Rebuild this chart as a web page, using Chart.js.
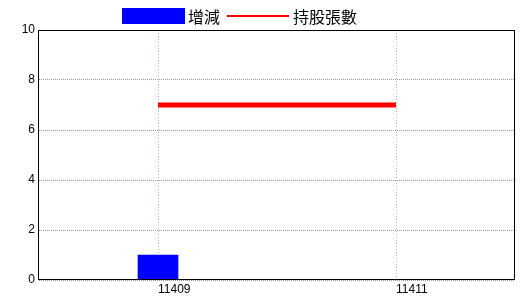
<!DOCTYPE html>
<html>
<head>
<meta charset="utf-8">
<script src="https://cdn.jsdelivr.net/npm/chart.js@4/dist/chart.umd.min.js"></script>
<style>
  html, body { margin: 0; padding: 0; background: #fff; }
  #wrap { width: 520px; height: 300px; }
</style>
</head>
<body>
<div id="wrap"><canvas id="chart"></canvas></div>
<script>
const categories = ['11409', '11411'];
const changeValues = [1, 0];        // 增減
const holdingValues = [7, 7];       // 持股張數
const yTicks = [0, 2, 4, 6, 8, 10];

const cjkFont = '"Noto Sans CJK TC", "Noto Sans CJK SC", sans-serif';

// legend drawn by hand so box / line sizes match the original
const legendPlugin = {
    id: 'customLegend',
    afterDraw: function (chart) {
        const ctx = chart.ctx;
        let x = 122;
        const midY = 16;
        ctx.save();
        ctx.font = '16px ' + cjkFont;
        ctx.textBaseline = 'middle';
        ctx.textAlign = 'left';
        chart.data.datasets.forEach(function (ds) {
            if (ds.type === 'line') {
                ctx.strokeStyle = ds.borderColor;
                ctx.lineWidth = 2;
                ctx.beginPath();
                ctx.moveTo(x, midY);
                ctx.lineTo(x + 62, midY);
                ctx.stroke();
                x += 66;
            } else {
                ctx.fillStyle = ds.backgroundColor;
                ctx.fillRect(x, midY - 8, 63, 16);
                x += 66;
            }
            ctx.fillStyle = '#000';
            ctx.fillText(ds.label, x, midY + 1);
            x += ctx.measureText(ds.label).width + 7;
        });
        ctx.restore();
    }
};

const framePlugin = {
    id: 'frame',
    afterDatasetsDraw: function (chart) {
        const a = chart.chartArea;
        const ctx = chart.ctx;
        ctx.save();
        ctx.strokeStyle = '#000';
        ctx.lineWidth = 1;
        ctx.strokeRect(Math.round(a.left) - 0.5, Math.round(a.top) + 0.5,
            Math.round(a.right - a.left), Math.round(a.bottom - a.top) - 1);
        ctx.restore();
    }
};

new Chart(document.getElementById('chart'), {
    data: {
        labels: categories,
        datasets: [{
            type: 'bar',
            label: '增減',
            data: changeValues,
            backgroundColor: '#0000ff',
            barThickness: 40,
            order: 1
        }, {
            type: 'line',
            label: '持股張數',
            data: holdingValues,
            borderColor: '#ff0000',
            backgroundColor: '#ff0000',
            borderWidth: 5,
            pointRadius: 0,
            order: 0
        }]
    },
    options: {
        responsive: true,
        maintainAspectRatio: false,
        animation: false,
        layout: { padding: { top: 30, right: 5, left: 0, bottom: 0 } },
        plugins: {
            legend: { display: false },
            tooltip: { enabled: false }
        },
        scales: {
            x: {
                offset: true,
                grid: {
                    offset: false,
                    color: '#a9bccc',
                    lineWidth: 1,
                    drawTicks: false
                },
                border: { display: false, dash: [1, 2] },
                ticks: {
                    color: '#000',
                    padding: 2,
                    align: 'start',
                    font: { family: 'Liberation Sans', size: 12 }
                },
                afterFit: function (s) { s.height = 20; }
            },
            y: {
                min: 0,
                max: 10,
                afterBuildTicks: function (s) {
                    s.ticks = yTicks.map(function (v) { return { value: v }; });
                },
                grid: {
                    color: '#999999',
                    lineWidth: 1,
                    drawTicks: false
                },
                border: { display: false, dash: [1, 1] },
                ticks: {
                    color: '#000',
                    padding: 4,
                    font: { family: 'Liberation Sans', size: 12 }
                },
                afterFit: function (s) { s.width = 39; }
            }
        }
    },
    plugins: [legendPlugin, framePlugin]
});
</script>
</body>
</html>
